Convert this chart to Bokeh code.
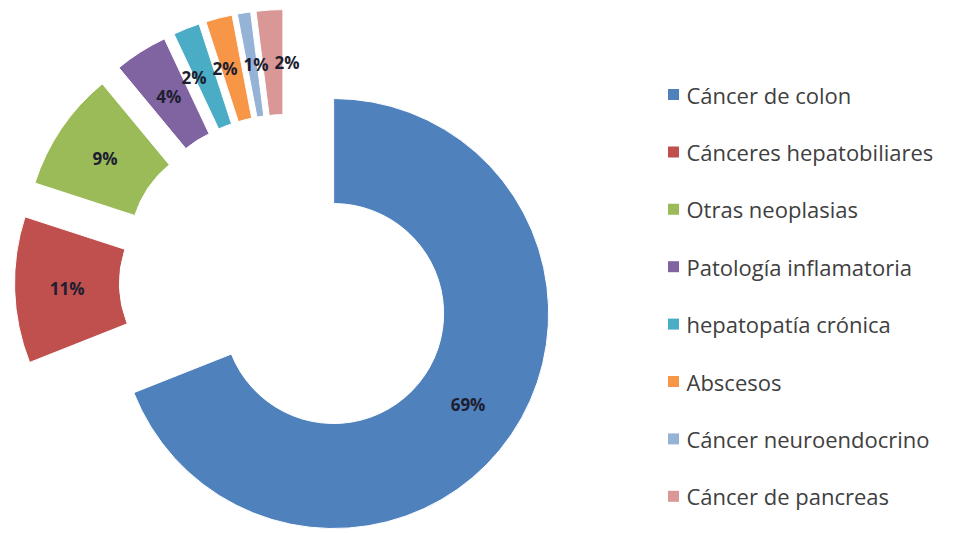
import numpy as np
from bokeh.plotting import figure
from bokeh.models import ColumnDataSource, Range1d
from bokeh.core.properties import value
from bokeh.embed import file_html
from bokeh.resources import INLINE

# Diagnoses and their share of cases (%)
categories = [
    "Cáncer de colon",
    "Cánceres hepatobiliares",
    "Otras neoplasias",
    "Patología inflamatoria",
    "hepatopatía crónica",
    "Abscesos",
    "Cáncer neuroendocrino",
    "Cáncer de pancreas",
]
percentages = [69, 11, 9, 4, 2, 2, 1, 2]
colors = ["#4F81BD", "#C0504D", "#9BBB59", "#8064A2",
          "#4BACC6", "#F79646", "#95B3D7", "#D99795"]

W, H = 953, 533

# Exploded doughnut geometry (pixel units)
cx, cy = 286, H - 281
r_out, r_in = 215, 110
explode = 57

vals = np.array(percentages, dtype=float)
frac = vals / vals.sum()
cum = np.concatenate([[0], np.cumsum(frac)])
# clockwise from 12 o'clock
theta_start = np.pi / 2 - cum[:-1] * 2 * np.pi
theta_end = np.pi / 2 - cum[1:] * 2 * np.pi
mid = (theta_start + theta_end) / 2
xs = cx + explode * np.cos(mid)
ys = cy + explode * np.sin(mid)

r_mid = (r_out + r_in) / 2
lx = xs + r_mid * np.cos(mid)
ly = ys + r_mid * np.sin(mid)

# spread the labels of the thin slices so they sit side by side
small = np.where(frac < 0.03)[0]
if len(small) > 1:
    step = 31
    centre = lx[small].mean()
    offs = (np.arange(len(small)) - (len(small) - 1) / 2) * step
    lx[small] = centre + offs

src = ColumnDataSource(dict(
    x=xs, y=ys, start=theta_end, end=theta_start, color=colors,
    lx=lx, ly=ly, label=[f"{v}%" for v in percentages],
))

p = figure(width=W, height=H, output_backend="svg", toolbar_location=None,
           x_range=Range1d(0, W), y_range=Range1d(0, H),
           min_border=0, outline_line_color=None)
p.axis.visible = False
p.grid.visible = False
p.background_fill_color = "white"
p.border_fill_color = "white"

p.annular_wedge(x="x", y="y", inner_radius=r_in, outer_radius=r_out,
                start_angle="start", end_angle="end", direction="anticlock",
                fill_color="color", line_color="white", line_width=1,
                source=src)

p.text(x="lx", y="ly", text="label", source=src,
       text_align="center", text_baseline="middle",
       text_font=value("Open Sans"), text_font_style="bold",
       text_font_size="17px", text_color="#1e1e30")

# Legend
leg_y = [H - (94 + 57.4 * i) for i in range(len(categories))]
leg_src = ColumnDataSource(dict(
    x=[673] * len(categories), y=leg_y, tx=[686] * len(categories),
    color=colors, name=categories,
))
p.scatter(x="x", y="y", marker="square", size=11, fill_color="color",
          line_color=None, source=leg_src)
p.text(x="tx", y="y", text="name", source=leg_src,
       text_align="left", text_baseline="middle",
       text_font=value("Open Sans"), text_font_size="22px",
       text_color="#404040")

open("out.html", "w").write(file_html(p, INLINE))
